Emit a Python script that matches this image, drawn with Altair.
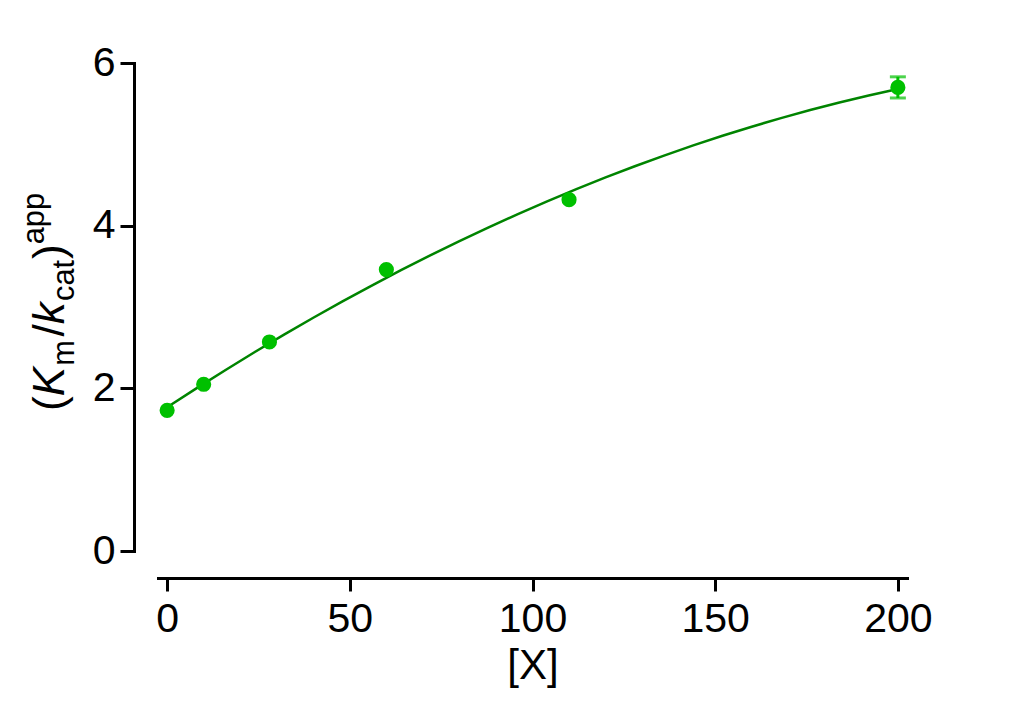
import altair as alt
import pandas as pd

# Data
x_vals = [0, 10, 28, 60, 110, 200]
y_vals = [1.73, 2.05, 2.57, 3.46, 4.32, 5.70]
y_err = [0.03, 0.03, 0.04, 0.05, 0.05, 0.13]
x_ticks = [0, 50, 100, 150, 200]
y_ticks = [0, 2, 4, 6]

FONT = "Liberation Sans"
FS = 41
TFS = 44
PT_COLOR = "#00C000"
LINE_COLOR = "#008400"

df = pd.DataFrame({"x": x_vals, "y": y_vals, "err": y_err})
df["lo"] = df["y"] - df["err"]
df["hi"] = df["y"] + df["err"]
df_err = df[df["err"] > 0.1]

W, H = 749, 488

xs = alt.Scale(domain=[-2.5, 202.5], nice=False, zero=False)
ys = alt.Scale(domain=[0, 6], nice=False)

x_axis = alt.Axis(values=x_ticks, offset=27, domainWidth=3, tickWidth=3, tickSize=13,
                  domainColor="black", tickColor="black", labelColor="black",
                  labelFont=FONT, labelFontSize=FS, labelPadding=8, labelFlush=False,
                  title="[X]", titleFont=FONT, titleFontSize=FS + 1, titleFontWeight="normal",
                  titleColor="black", titlePadding=6, grid=False, domainCap="square")
y_axis = alt.Axis(values=y_ticks, offset=24, domainWidth=3, tickWidth=3, tickSize=14,
                  domainColor="black", tickColor="black", labelColor="black",
                  labelFont=FONT, labelFontSize=FS, labelPadding=5, labelFlush=False,
                  title=None, grid=False, domainCap="square")

xe = alt.X("x:Q", scale=xs, axis=x_axis)
ye = alt.Y("y:Q", scale=ys, axis=y_axis)

base = alt.Chart(df)

curve = base.transform_regression("x", "y", method="poly", order=2, extent=[0, 200]).mark_line(
    color=LINE_COLOR, strokeWidth=2.5).encode(x=xe, y=ye)

points = base.mark_point(filled=True, size=230, color=PT_COLOR, opacity=1).encode(x=xe, y=ye)

err_rule = alt.Chart(df_err).mark_rule(color=PT_COLOR, strokeWidth=3).encode(
    x=xe, y=alt.Y("lo:Q", scale=ys, axis=y_axis), y2="hi:Q")
cap_lo = alt.Chart(df_err).mark_tick(color=PT_COLOR, thickness=3, size=16, orient="horizontal").encode(
    x=xe, y=alt.Y("lo:Q", scale=ys, axis=y_axis))
cap_hi = alt.Chart(df_err).mark_tick(color=PT_COLOR, thickness=3, size=16, orient="horizontal").encode(
    x=xe, y=alt.Y("hi:Q", scale=ys, axis=y_axis))

# Y title (K_m/k_cat)^app built from rotated text pieces
em = {"(": 0.333, "K": 0.667, "m": 0.833, "/": 0.278, "k": 0.5, "c": 0.5, "a": 0.556,
      "t": 0.278, ")": 0.333, "p": 0.556}
SUB = TFS * 0.7
segments = [
    ("(", "normal", TFS, 0, 0.0),
    ("K", "italic", TFS, 0, 0.03),
    ("m", "normal", SUB, 1, 0.08),
    ("/", "normal", TFS, 0, 0.0),
    ("k", "italic", TFS, 0, 0.03),
    ("cat", "normal", SUB, 1, 0.02),
    (")", "normal", TFS, 0, 0.0),
    ("app", "normal", SUB, -1, 0.0),
]
base_x = -94
cur_y = 348
title_layers = []
for txt, style, size, shift, gap in segments:
    px = base_x + (0.22 * TFS if shift == 1 else (-0.45 * TFS if shift == -1 else 0))
    title_layers.append(
        alt.Chart(pd.DataFrame({"t": [txt]})).mark_text(
            angle=270, align="left", baseline="alphabetic", font=FONT, fontSize=size,
            fontStyle=style, color="black").encode(
            text="t:N", x=alt.value(px), y=alt.value(cur_y)))
    cur_y -= sum(em[c] for c in txt) * size + gap * TFS

chart = alt.layer(curve, err_rule, cap_lo, cap_hi, points, *title_layers).properties(
    width=W, height=H,
    background="white",
    autosize=alt.AutoSizeParams(type="none"),
    padding={"left": 150, "top": 55, "right": 60, "bottom": 155},
).configure_view(strokeWidth=0, stroke=None)

chart.save("out.html", embed_options={"renderer": "svg", "actions": False})
